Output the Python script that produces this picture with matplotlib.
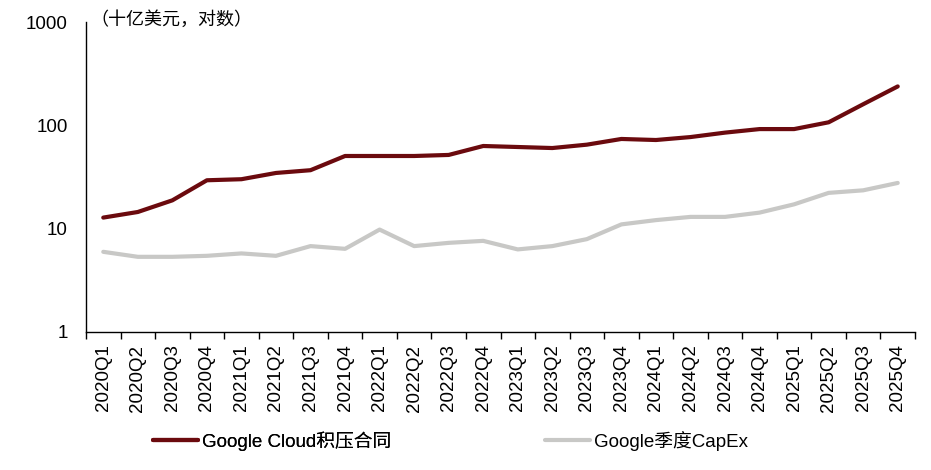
import numpy as np
import matplotlib
matplotlib.use('Agg')
import matplotlib.pyplot as plt
from matplotlib.ticker import FixedLocator, NullFormatter

plt.rcParams['font.family'] = ['Liberation Sans', 'Noto Sans CJK SC', 'DejaVu Sans']

# Data (billion USD)
quarters = [f'{y}Q{q}' for y in range(2020, 2026) for q in range(1, 5)]
cloud_backlog = [12.8, 14.5, 18.8, 29.4, 30.1, 34.6, 36.8, 50.5,
                 50.5, 50.5, 51.7, 63.1, 61.7, 60.3, 65.0, 73.8,
                 72.1, 77.0, 85.0, 92.0, 92.0, 107.0, 160.0, 238.0]
capex = [5.97, 5.34, 5.34, 5.46, 5.76, 5.46, 6.78, 6.38,
         9.8, 6.78, 7.29, 7.62, 6.3, 6.78, 7.92, 11.0,
         12.1, 13.0, 13.0, 14.3, 17.2, 22.2, 23.5, 27.7]
series_names = ['Google Cloud积压合同', 'Google季度CapEx']

fig = plt.figure(figsize=(9.31, 4.70), dpi=100)
ax = fig.add_axes([86/931, 1-332/470, (915-86)/931, (332-22)/470])

x = np.arange(len(quarters))
l1, = ax.plot(x, cloud_backlog, color='#6b0a0e', lw=3.0, label=series_names[0], solid_capstyle='round')
l2, = ax.plot(x, capex, color='#c8c8c6', lw=3.0, label=series_names[1], solid_capstyle='round')

ax.set_yscale('log')
ax.set_ylim(1, 1000)
ax.set_yticks([1, 10, 100, 1000])
ax.set_yticklabels(['1', '10', '100', '1000'])
ax.yaxis.set_minor_locator(FixedLocator([]))
ax.tick_params(axis='y', length=0, pad=13, labelsize=13.5)

ax.set_xlim(-0.5, len(quarters) - 0.5)
ax.set_xticks(x)
ax.set_xticklabels(quarters, rotation=90, fontsize=13.5)
ax.xaxis.set_minor_locator(FixedLocator(np.arange(len(quarters) + 1) - 0.5))
ax.xaxis.set_minor_formatter(NullFormatter())
ax.tick_params(axis='x', which='major', length=0, pad=9)
ax.tick_params(axis='x', which='minor', length=5, width=1)

for s in ['top', 'right']:
    ax.spines[s].set_visible(False)
for s in ['left', 'bottom']:
    ax.spines[s].set_linewidth(1.0)

ax.text(90/931, 1 - 20/470, '（十亿美元，对数）', transform=fig.transFigure,
        fontsize=13, va='center', ha='left', family=['Noto Sans CJK SC'])

# two legend entries placed separately, as in the reference
leg_kw = dict(frameon=False, fontsize=13.5, handlelength=2.4, handletextpad=0.2,
              borderpad=0, borderaxespad=0, loc='center left')
leg1 = fig.legend([l1], [series_names[0]], bbox_to_anchor=(153/931, 1 - 441/470), **leg_kw)
fig.add_artist(leg1)
fig.legend([l2], [series_names[1]], bbox_to_anchor=(545/931, 1 - 441/470), **leg_kw)

fig.savefig('out.png', dpi=100)
